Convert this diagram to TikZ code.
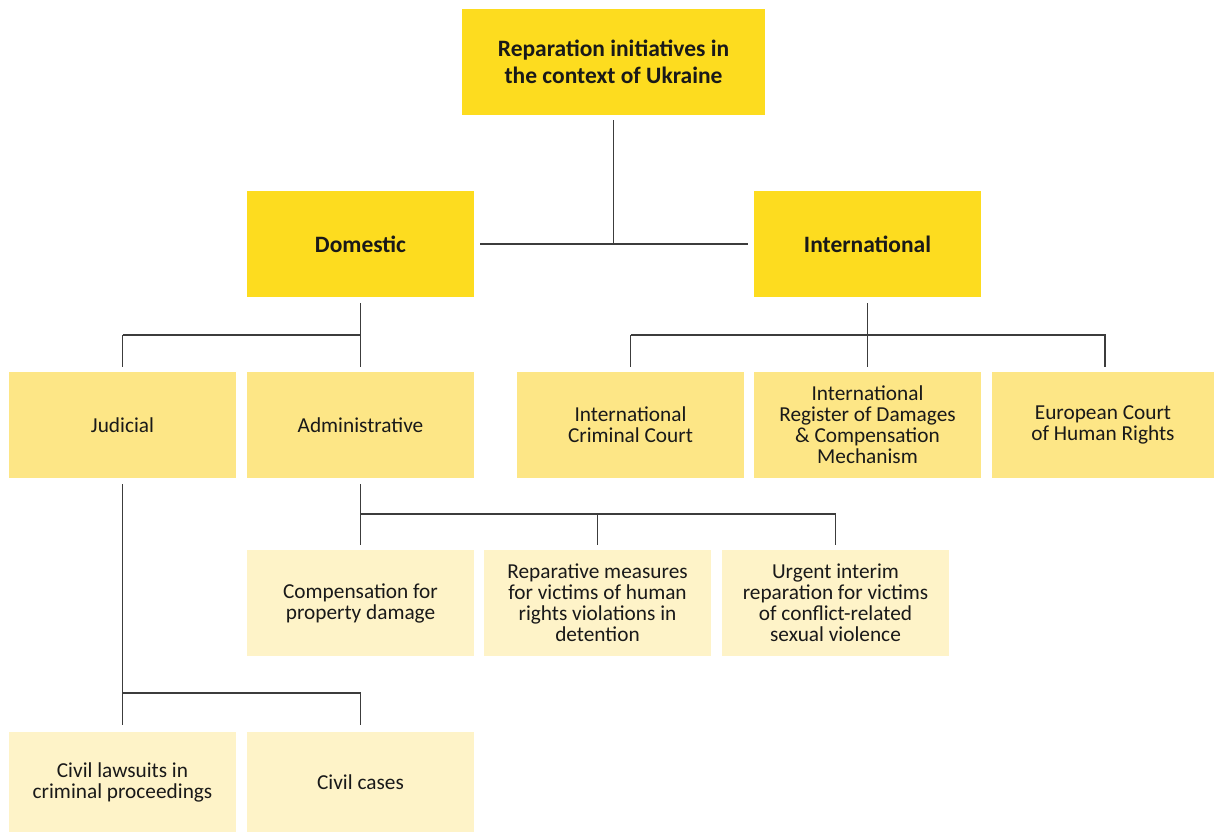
\documentclass[tikz,border=0pt]{standalone}
\usepackage{fontspec}
\setmainfont{Carlito}
\definecolor{ydark}{HTML}{FDDC1F}
\definecolor{ymid}{HTML}{FDE686}
\definecolor{ylight}{HTML}{FEF3C8}
\definecolor{lgrey}{HTML}{3C3C3C}
\begin{document}
\begin{tikzpicture}[x=1pt,y=-1pt,
  box/.style={minimum width=227pt, minimum height=106pt, inner sep=0pt, align=center, text=black!90},
  main/.style={box, fill=ydark, font=\fontsize{23.5}{27}\selectfont\bfseries},
  sub/.style={box, fill=ymid, font=\fontsize{21.3}{21}\selectfont},
  leaf/.style={box, fill=ylight, font=\fontsize{21.3}{21}\selectfont},
  conn/.style={draw=lgrey, line width=1.1pt}]
\useasboundingbox (0,0) rectangle (1214,832);
\node[main, minimum width=303pt] (top) at (613.5,62) {Reparation initiatives in\\the context of Ukraine};
\node[main] (dom) at (360.5,244) {Domestic};
\node[main] (intl) at (867.5,244) {International};
\node[sub] (jud) at (122.5,425) {Judicial};
\node[sub] (adm) at (360.5,425) {Administrative};
\node[sub] (icc) at (630.5,425) {International\\Criminal Court};
\node[sub] (ird) at (867.5,425) {International\\Register of Damages\\\& Compensation\\Mechanism};
\node[sub, minimum width=222pt] (echr) at (1103,425) {European Court\\of Human Rights};
\node[leaf] (comp) at (360.5,603) {Compensation for\\property damage};
\node[leaf] (rep) at (597.5,603) {Reparative measures\\for victims of human\\rights violations in\\detention};
\node[leaf] (urg) at (835.5,603) {Urgent interim\\reparation for victims\\of conflict-related\\sexual violence};
\node[leaf, minimum height=100pt] (civ1) at (122.5,782) {Civil lawsuits in\\criminal proceedings};
\node[leaf, minimum height=100pt] (civ2) at (360.5,782) {Civil cases};
% top level
\draw[conn] ([yshift=-5pt]top.south) -- (top.south |- dom.east);
\draw[conn] ([xshift=6pt]dom.east) -- ([xshift=-6pt]intl.west);
% domestic
\coordinate (bd) at (360.5,335);
\draw[conn] ([yshift=-6pt]dom.south) -- (bd);
\draw[conn] (jud.north |- bd) -- (adm.north |- bd);
\draw[conn] (jud.north |- bd) -- ([yshift=5pt]jud.north);
\draw[conn] (adm.north |- bd) -- ([yshift=5pt]adm.north);
% international
\coordinate (bi) at (867.5,335);
\draw[conn] ([yshift=-6pt]intl.south) -- (bi);
\draw[conn] (icc.north |- bi) -- ([xshift=2pt]echr.north |- bi) -- ([xshift=2pt,yshift=5pt]echr.north);
\draw[conn] (icc.north |- bi) -- ([yshift=5pt]icc.north);
\draw[conn] (ird.north |- bi) -- ([yshift=5pt]ird.north);
% administrative
\coordinate (ba) at (360.5,514);
\draw[conn] ([yshift=-6pt]adm.south) -- ([yshift=5pt]comp.north);
\draw[conn] (ba) -- (urg.north |- ba) -- ([yshift=5pt]urg.north);
\draw[conn] (rep.north |- ba) -- ([yshift=5pt]rep.north);
% judicial
\coordinate (bj) at (122.5,693);
\draw[conn] ([yshift=-6pt]jud.south) -- ([yshift=7pt]civ1.north);
\draw[conn] (bj) -- (civ2.north |- bj) -- ([yshift=7pt]civ2.north);
\end{tikzpicture}
\end{document}
